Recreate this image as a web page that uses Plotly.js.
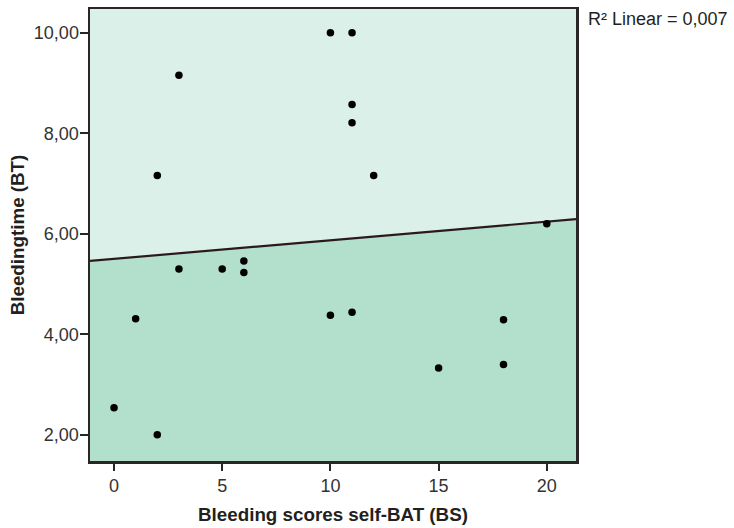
<!DOCTYPE html>
<html><head><meta charset="utf-8">
<script src="https://cdn.plot.ly/plotly-3.0.1.min.js"></script>
<style>html,body{margin:0;padding:0;background:#fff}#chart{width:734px;height:528px}</style>
</head><body><div id="chart"></div>
<script>
// Data
const bleedingScore = [0, 1, 2, 2, 3, 3, 5, 6, 6, 10, 11, 11, 11, 12, 10, 11, 15, 18, 18, 20];
const bleedingTime  = [2.54, 4.31, 7.16, 2.00, 9.15, 5.30, 5.30, 5.46, 5.23, 10.00, 10.00, 8.57, 8.21, 7.16, 4.38, 4.44, 3.33, 4.29, 3.40, 6.20];
// Fit line as drawn in the reference (intercept, slope)
const fitCoef = [5.50, 0.037];
const fitLabel = "R\u00b2 Linear = 0,007";
const yTickVals = [2, 4, 6, 8, 10];
const yTickText = ["2,00", "4,00", "6,00", "8,00", "10,00"];
const xTickVals = [0, 5, 10, 15, 20];
const xRange = [-1.11, 21.35];
const yRange = [1.48, 10.47];

const fitX = xRange.slice();
const fitY = fitX.map(x => fitCoef[0] + fitCoef[1] * x);

const font = "Liberation Sans, Arial, Helvetica, sans-serif";
const traces = [
  { x: fitX, y: fitY, type: 'scatter', mode: 'lines', fill: 'tozeroy',
    fillcolor: '#b3dfcd', line: { color: '#2a1a1e', width: 2.2 }, hoverinfo: 'skip', showlegend: false },
  { x: bleedingScore, y: bleedingTime, type: 'scatter', mode: 'markers',
    marker: { color: '#000', size: 7.5 }, showlegend: false }
];
const layout = {
  width: 734, height: 528,
  margin: { l: 90, r: 158, t: 9, b: 67 },
  paper_bgcolor: '#fff', plot_bgcolor: '#dcf0ea',
  font: { family: font, size: 18, color: '#333' },
  showlegend: false,
  xaxis: {
    range: xRange, tickvals: xTickVals, ticktext: xTickVals.map(String),
    showgrid: false, zeroline: false, showline: true, mirror: true,
    linecolor: '#2a2526', linewidth: 2.5, ticks: 'outside', ticklen: 7, tickwidth: 2, tickcolor: '#2a2526',
    tickfont: { size: 18, color: '#333' },
    title: { text: 'Bleeding scores self-BAT (BS)', font: { size: 18.8, color: '#231f20', family: font, weight: 'bold' }, standoff: 13 }
  },
  yaxis: {
    range: yRange, tickvals: yTickVals, ticktext: yTickText,
    showgrid: false, zeroline: false, showline: true, mirror: true,
    linecolor: '#2a2526', linewidth: 2.5, ticks: 'outside', ticklen: 8, tickwidth: 2, tickcolor: '#2a2526',
    ticklabelstandoff: -3,
    tickfont: { size: 18, color: '#333' },
    title: { text: 'Bleedingtime (BT)', font: { size: 18.8, color: '#231f20', family: font, weight: 'bold' }, standoff: 5 }
  },
  annotations: [
    { text: fitLabel, xref: 'paper', yref: 'paper', x: 1, y: 1, xanchor: 'left', yanchor: 'top',
      xshift: 10, yshift: 2, showarrow: false, font: { size: 18, color: '#231f20', family: font } }
  ]
};
Plotly.newPlot('chart', traces, layout, { staticPlot: true, displayModeBar: false });
</script></body></html>
